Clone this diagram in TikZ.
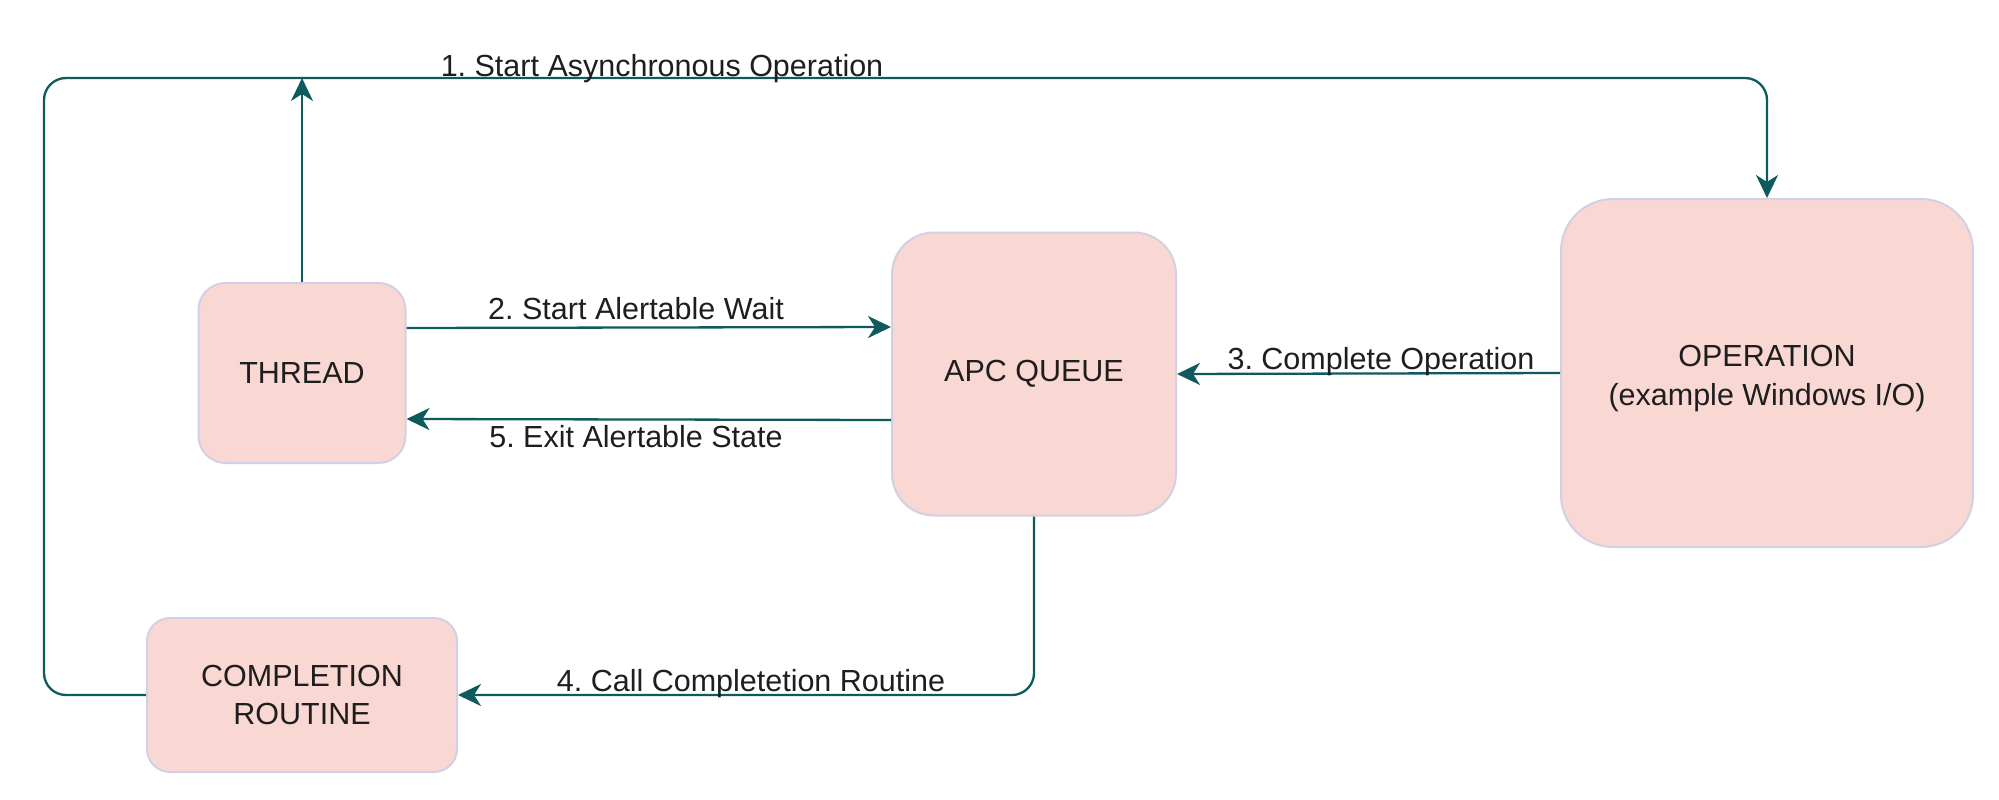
\documentclass[tikz,border=0pt]{standalone}
\usepackage{fontspec}
\setmainfont{Liberation Sans}
\frenchspacing
\usetikzlibrary{arrows.meta}
\definecolor{boxfill}{HTML}{F9D8D4}
\definecolor{boxline}{HTML}{D2D0E4}
\definecolor{flowcol}{HTML}{0E5A5C}
\definecolor{txtcol}{HTML}{1E1E1E}
\begin{document}
\begin{tikzpicture}[x=1pt,y=-1pt,
    flow/.style={draw=flowcol,line width=2.3pt},
    tip/.style={-{Stealth[length=23pt,width=22pt,inset=7pt]}}]

        \useasboundingbox (0,0) rectangle (1999,800);

        \begin{scope}[every node/.style={rectangle,draw=boxline,line width=2pt,fill=boxfill,
            text=txtcol,font=\fontsize{30.5}{38}\selectfont,align=center,inner sep=0pt}]
          \node[minimum width=207pt,minimum height=180pt,rounded corners=27pt] (1) at (302,373) {THREAD};
          \node[minimum width=284pt,minimum height=283pt,rounded corners=42pt] (2) at (1034,374) {APC QUEUE};
          \node[minimum width=412pt,minimum height=348pt,rounded corners=52pt,text height=72pt,
            font=\fontsize{30.5}{39}\selectfont] (3) at (1767,373) {OPERATION\\(example Windows I/O)};
          \node[minimum width=310pt,minimum height=154pt,rounded corners=23pt] (4) at (302,695) {COMPLETION\\ROUTINE};
        \end{scope}

        \coordinate (tl) at (44,78);

        \begin{scope}[every edge/.style={flow,tip}]
          \path ([yshift=45pt]1.east) edge ([yshift=47pt]2.west);
          \path ([yshift=-46pt]2.west) edge ([yshift=-46pt]1.east);
          \path (3.west) edge (2.east);
          \path (1.north) edge (1.north |- tl);
        \end{scope}

        \draw[flow,tip,rounded corners=22pt] (4.west) -| (tl) -| (3.north);
        \draw[flow,tip,rounded corners=22pt] (2.south) |- (4.east);

        \begin{scope}[every node/.style={text=txtcol,font=\fontsize{30.5}{38}\selectfont,anchor=base,inner sep=0pt}]
          \node (l1) at (662,76)  {1. Start Asynchronous Operation};
          \node (l2) at (636,319) {2. Start Alertable Wait};
          \node (l3) at (1381,369) {3. Complete Operation};
          \node (l4) at (751,691) {4. Call Completetion Routine};
          \node (l5) at (636,447) {5. Exit Alertable State};
        \end{scope}

      \end{tikzpicture}
\end{document}
